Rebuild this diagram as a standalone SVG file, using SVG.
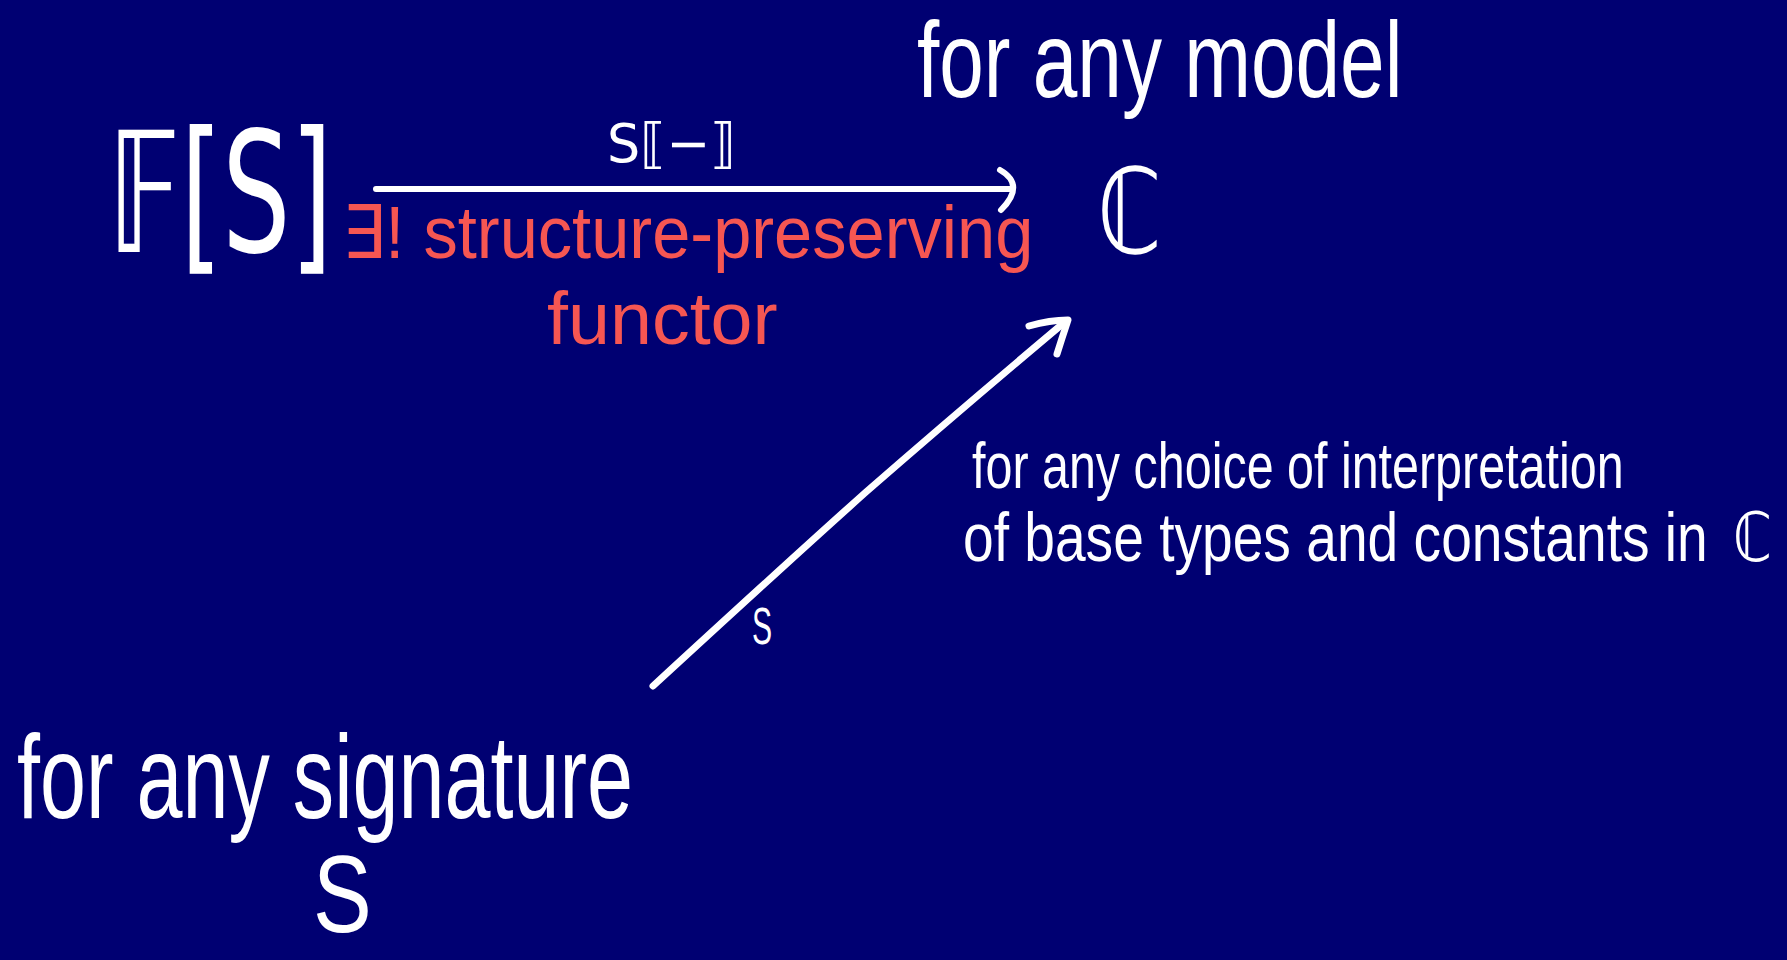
<svg xmlns="http://www.w3.org/2000/svg" width="1787" height="960" viewBox="0 0 1787 960">
<style>
.w{fill:#ffffff;font-family:"Liberation Sans","DejaVu Sans",sans-serif}
.r{fill:#f65652;font-family:"Liberation Sans","DejaVu Sans",sans-serif}
.m{fill:#ffffff;font-family:"DejaVu Sans","Liberation Sans",sans-serif}
.ln{fill:none;stroke:#ffffff;stroke-linecap:round;stroke-linejoin:round}
</style>
<rect width="1787" height="960" fill="#000072"/>
<g id="connectors">
<path class="ln" stroke-width="6" d="M376,189 L1012,189"/>
<path class="ln" stroke-width="6" d="M1000,170 Q1026,185 1001,210"/>
<path class="ln" stroke-width="7" d="M653,686 Q790,560 866,492 Q960,410 1066,321"/>
<path class="ln" stroke-width="7" d="M1029,326 Q1050,320 1068,320 Q1062,338 1057,354"/>
<text class="m" transform="translate(607,162) scale(0.97,1)" font-size="54">S⟦−⟧</text>
<text class="w" transform="translate(752,644) scale(0.58,1)" font-size="52">S</text>
</g>
<g id="node-FS">
<text class="m" transform="translate(108,252) scale(0.64,1)" font-size="168">𝔽[S]</text>
</g>
<g id="node-C">
<text class="m" transform="translate(1097,253) scale(0.78,1)" font-size="118">ℂ</text>
</g>
<g id="label-model">
<text class="w" transform="translate(917,97) scale(0.742,1)" font-size="108">for any model</text>
</g>
<g id="label-functor">
<text class="r" transform="translate(342,258) scale(0.927,1)" font-size="74">∃! structure-preserving</text>
<text class="r" transform="translate(547,344) scale(1.02,1)" font-size="74">functor</text>
</g>
<g id="label-interpretation">
<text class="w" transform="translate(972,488) scale(0.757,1)" font-size="64">for any choice of interpretation</text>
<text class="w" transform="translate(963,561) scale(0.811,1)" font-size="68">of base types and constants in</text>
<text class="m" transform="translate(1733,561) scale(0.82,1)" font-size="68">ℂ</text>
</g>
<g id="label-signature">
<text class="w" transform="translate(17,818) scale(0.701,1)" font-size="118">for any signature</text>
<text class="w" transform="translate(313,932) scale(0.8,1)" font-size="110">S</text>
</g>
</svg>
